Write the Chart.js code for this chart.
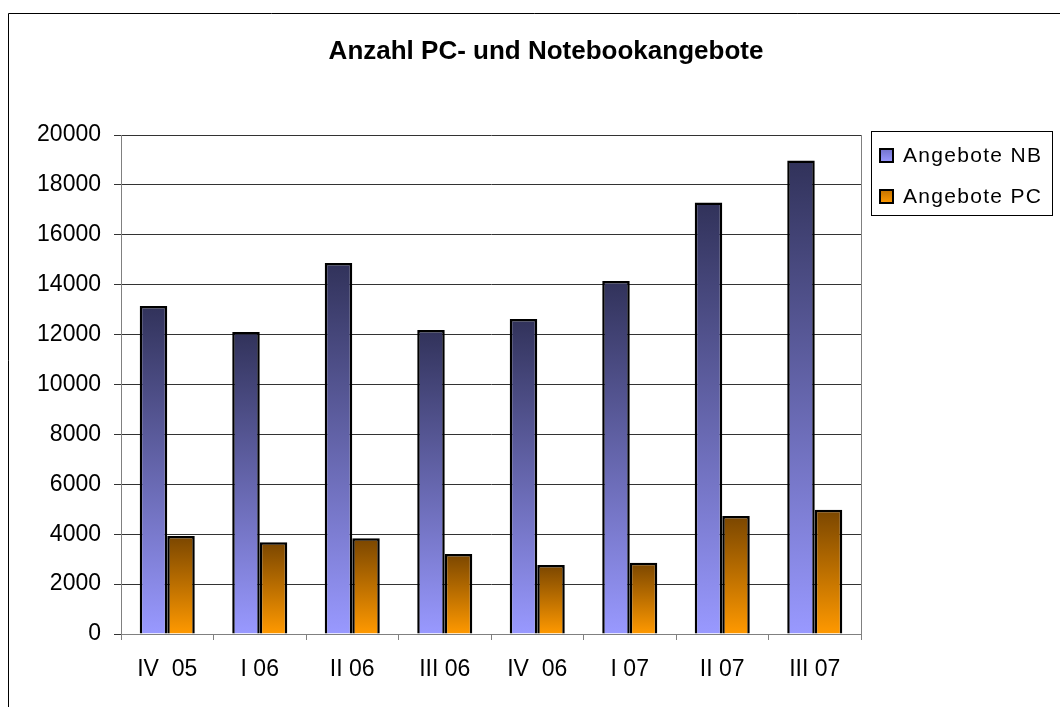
<!DOCTYPE html>
<html>
<head>
<meta charset="utf-8">
<script src="https://cdn.jsdelivr.net/npm/chart.js@4/dist/chart.umd.min.js"></script>
<style>
html,body{margin:0;padding:0;background:#fff;}
#wrap{width:1060px;height:707px;position:relative;}
</style>
</head>
<body>
<div id="wrap"><canvas id="c" width="1060" height="707"></canvas></div>
<script>
const categories = ["IV  05", "I 06", "II 06", "III 06", "IV  06", "I 07", "II 07", "III 07"];
const seriesNames = ["Angebote NB", "Angebote PC"];
const valuesNB = [13150, 12100, 14870, 12180, 12630, 14150, 17290, 18980];
const valuesPC = [3930, 3680, 3840, 3210, 2770, 2860, 4730, 4980];
const yTicks = [0, 2000, 4000, 6000, 8000, 10000, 12000, 14000, 16000, 18000, 20000];
const titleText = "Anzahl PC- und Notebookangebote";

const FONT = "'Liberation Sans', Arial, sans-serif";
const gradStops = [["#31325a", "#9999ff"], ["#7a4600", "#ff9900"]];

function barGradient(ctx, idx) {
  const chart = ctx.chart;
  const y = chart.scales && chart.scales.y;
  if (!y || ctx.raw === undefined || !chart.chartArea) return gradStops[idx][1];
  const top = y.getPixelForValue(ctx.raw);
  const bottom = y.getPixelForValue(0);
  const g = chart.ctx.createLinearGradient(0, top, 0, bottom);
  g.addColorStop(0, gradStops[idx][0]);
  g.addColorStop(1, gradStops[idx][1]);
  return g;
}

const decor = {
  id: 'decor',
  beforeDraw(chart) {
    const c = chart.ctx;
    c.save();
    c.fillStyle = '#fff';
    c.fillRect(0, 0, chart.width, chart.height);
    c.restore();
  },
  afterDraw(chart) {
    const c = chart.ctx;
    const a = chart.chartArea;
    c.save();
    // outer border
    c.strokeStyle = '#000';
    c.lineWidth = 1;
    c.beginPath();
    c.moveTo(8.5, 707);
    c.lineTo(8.5, 13.5);
    c.lineTo(1060, 13.5);
    c.stroke();
    // plot area right border
    c.strokeStyle = '#808080';
    c.beginPath();
    c.moveTo(Math.round(a.right) + 0.5, a.top);
    c.lineTo(Math.round(a.right) + 0.5, a.bottom);
    c.stroke();
    // title
    c.fillStyle = '#000';
    c.font = "bold 26px " + FONT;
    c.textAlign = 'center';
    c.textBaseline = 'middle';
    try { c.letterSpacing = '0px'; } catch (e) {}
    c.fillText(titleText, 546, 52);
    // legend
    const lx = 871.5, ly = 131.5, lw = 181, lh = 84;
    c.strokeStyle = '#000';
    c.lineWidth = 1;
    c.fillStyle = '#fff';
    c.fillRect(lx, ly, lw, lh);
    c.strokeRect(lx, ly, lw, lh);
    const rows = [155, 196];
    chart.data.datasets.forEach((ds, i) => {
      const cy = rows[i];
      const g = c.createLinearGradient(0, cy - 7, 0, cy + 7);
      g.addColorStop(0, i === 0 ? '#7070c8' : '#c07000');
      g.addColorStop(1, gradStops[i][1]);
      c.fillStyle = g;
      c.fillRect(880, cy - 6, 13, 13);
      c.lineWidth = 2;
      c.strokeStyle = '#000';
      c.strokeRect(880, cy - 6, 13, 13);
      c.fillStyle = '#000';
      c.font = "21px " + FONT;
      c.textAlign = 'left';
      c.textBaseline = 'middle';
      try { c.letterSpacing = '1.3px'; } catch (e) {}
      c.fillText(ds.label, 903, cy + 1);
      try { c.letterSpacing = '0px'; } catch (e) {}
    });
    c.restore();
  }
};

new Chart(document.getElementById('c'), {
  type: 'bar',
  data: {
    labels: categories,
    datasets: [
      { label: seriesNames[0], data: valuesNB, backgroundColor: (ctx) => barGradient(ctx, 0) },
      { label: seriesNames[1], data: valuesPC, backgroundColor: (ctx) => barGradient(ctx, 1) }
    ]
  },
  options: {
    responsive: false,
    animation: false,
    devicePixelRatio: 1,
    layout: { padding: { top: 135, right: 199, left: 0, bottom: 0 } },
    datasets: {
      bar: { borderColor: '#000', borderWidth: 2.5, categoryPercentage: 0.595, barPercentage: 1.0 }
    },
    plugins: {
      legend: { display: false },
      title: { display: false },
      tooltip: { enabled: false }
    },
    scales: {
      x: {
        afterFit: (s) => { s.height = 73; },
        grid: { display: true, drawOnChartArea: false, drawTicks: true, tickLength: 6, color: '#808080', offset: true },
        border: { display: true, color: '#808080', width: 1 },
        ticks: { color: '#000', font: { family: FONT, size: 23 }, padding: 16, maxRotation: 0, autoSkip: false }
      },
      y: {
        min: 0, max: 20000,
        afterFit: (s) => { s.width = 121; },
        afterBuildTicks: (s) => { s.ticks = yTicks.map(v => ({ value: v })); },
        grid: { color: '#333', lineWidth: 1, tickLength: 7, drawTicks: true },
        border: { display: true, color: '#808080', width: 1 },
        ticks: { color: '#000', font: { family: FONT, size: 23 }, padding: 13, callback: (v) => String(v) }
      }
    }
  },
  plugins: [decor]
});
</script>
</body>
</html>
